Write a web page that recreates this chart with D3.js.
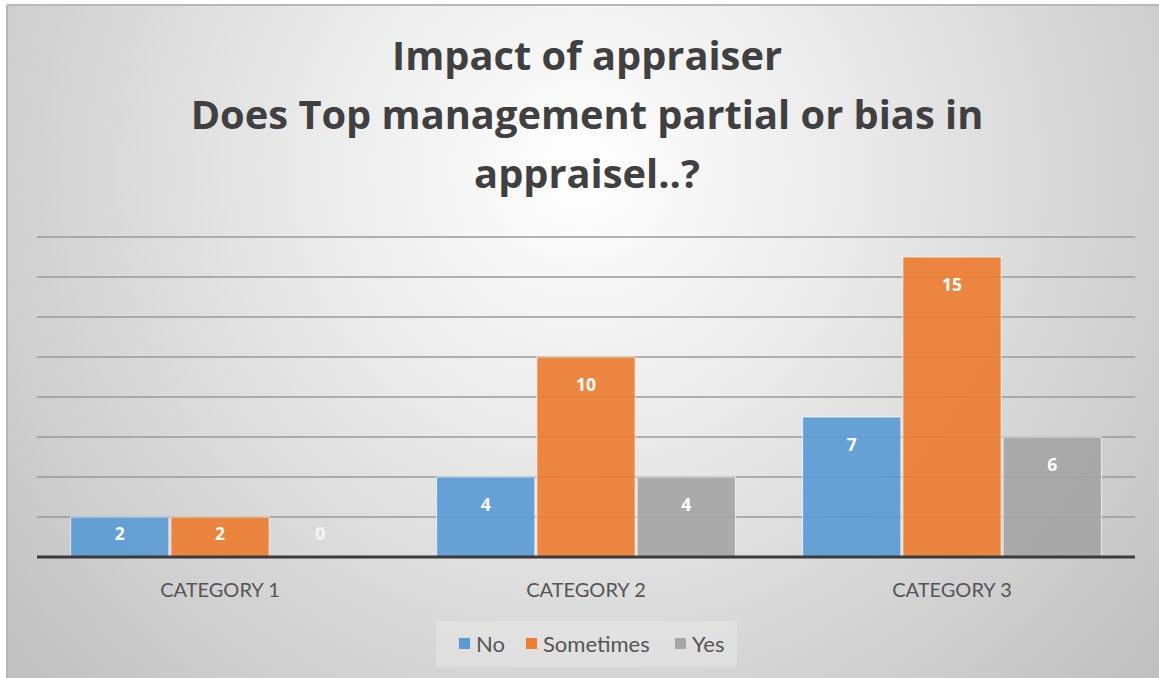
<!DOCTYPE html>
<html>
<head>
<meta charset="utf-8">
<script src="https://cdn.jsdelivr.net/npm/d3@7"></script>
<style>
  html, body { margin: 0; padding: 0; background: #ffffff; }
  svg { display: block; }
</style>
</head>
<body>
<svg id="chart" width="1159" height="678"></svg>
<script>
// ---- data ----
const categories = ["CATEGORY 1", "CATEGORY 2", "CATEGORY 3"];
const seriesNames = ["No", "Sometimes", "Yes"];
const noValues = [2, 4, 7];
const sometimesValues = [2, 10, 15];
const yesValues = [0, 4, 6];
const gridTicks = [0, 2, 4, 6, 8, 10, 12, 14, 16];
const titleLines = ["Impact of appraiser", "Does Top management partial or bias in", "appraisel..?"];

const seriesValues = [noValues, sometimesValues, yesValues];
const colors = ["#5b9bd5", "#ed7d31", "#a5a5a5"];

const W = 1159, H = 678;
const FONT = "Lato, 'Open Sans', sans-serif";
const svg = d3.select("#chart");
const defs = svg.append("defs");

// sizes a text element so that its rendered width equals the given width
function fitWidth(sel, width) {
  const base = 40;
  sel.attr("font-size", base);
  const w = sel.node().getComputedTextLength();
  const size = base * width / w;
  sel.attr("font-size", size);
  return size;
}

// chart area background: soft radial shading
const grad = defs.append("radialGradient")
  .attr("id", "bg").attr("gradientUnits", "userSpaceOnUse")
  .attr("cx", 580).attr("cy", 170).attr("r", 760);
grad.append("stop").attr("offset", "0%").attr("stop-color", "#ffffff");
grad.append("stop").attr("offset", "35%").attr("stop-color", "#ebebeb");
grad.append("stop").attr("offset", "100%").attr("stop-color", "#c0c0c0");

svg.append("rect").attr("x", 7).attr("y", 5).attr("width", W - 7).attr("height", H - 5)
  .attr("fill", "url(#bg)");
// frame edges
svg.append("line").attr("x1", 7).attr("y1", 5).attr("x2", W).attr("y2", 5)
  .attr("stroke", "#b8b8b8").attr("stroke-width", 2);
svg.append("line").attr("x1", 7).attr("y1", 5).attr("x2", 7).attr("y2", H)
  .attr("stroke", "#b8b8b8").attr("stroke-width", 2);

// ---- title ----
const title = svg.append("g")
  .attr("font-family", "'Open Sans', Lato, sans-serif")
  .attr("font-weight", 700)
  .attr("fill", "#404040")
  .attr("text-anchor", "middle");
const titleBaselines = [70, 129, 188];
const titleTexts = titleLines.map((t, i) =>
  title.append("text").attr("x", 587).attr("y", titleBaselines[i]).text(t));
const titleSize = fitWidth(titleTexts[1], 793);
titleTexts.forEach(t => t.attr("font-size", titleSize));

// ---- scales ----
const plot = { left: 37, right: 1135, top: 237, bottom: 557 };
const x0 = d3.scaleBand().domain(categories)
  .range([plot.left, plot.right]).paddingInner(0.178).paddingOuter(0.089);
const x1 = d3.scaleBand().domain(seriesNames).range([0, x0.bandwidth()]).padding(0);
const y = d3.scaleLinear().domain([0, 16]).range([plot.bottom, plot.top]);

// gridlines
svg.append("g").selectAll("line").data(gridTicks.filter(d => d > 0)).join("line")
  .attr("x1", plot.left).attr("x2", plot.right)
  .attr("y1", d => y(d)).attr("y2", d => y(d))
  .attr("stroke", "#9a9a9a").attr("stroke-width", 1.6);

// bars
const rows = categories.map((c, ci) => ({
  cat: c,
  vals: seriesNames.map((s, si) => ({ s, si, v: seriesValues[si][ci] }))
}));
const groups = svg.append("g").selectAll("g").data(rows).join("g")
  .attr("transform", d => `translate(${x0(d.cat)},0)`);
groups.selectAll("rect").data(d => d.vals).join("rect")
  .attr("x", d => x1(d.s) + 1)
  .attr("width", x1.bandwidth() - 2)
  .attr("y", d => y(d.v))
  .attr("height", d => y(0) - y(d.v))
  .attr("fill", d => colors[d.si])
  .attr("fill-opacity", 0.92)
  .attr("stroke", "#ffffff").attr("stroke-opacity", 0.6).attr("stroke-width", 1.2);

// value labels
groups.selectAll("text").data(d => d.vals).join("text")
  .attr("x", d => x1(d.s) + x1.bandwidth() / 2)
  .attr("y", d => Math.min(y(d.v) + 28, y(0) - 23) + 6)
  .attr("text-anchor", "middle")
  .attr("font-family", "'Open Sans', Lato, sans-serif")
  .attr("font-weight", 700).attr("font-size", 17.5)
  .attr("fill", "#ffffff")
  .attr("fill-opacity", d => d.v === 0 ? 0.75 : 1)
  .text(d => d.v);

// baseline axis
svg.append("line").attr("x1", plot.left).attr("x2", plot.right)
  .attr("y1", y(0)).attr("y2", y(0))
  .attr("stroke", "#3a3a3a").attr("stroke-width", 3);

// category axis labels
const xAxis = svg.append("g").attr("transform", `translate(0,${y(0)})`)
  .call(d3.axisBottom(x0).tickSize(0).tickPadding(0));
xAxis.select(".domain").remove();
xAxis.selectAll("text")
  .attr("y", 40)
  .attr("dy", 0)
  .attr("font-family", FONT)
  .attr("font-size", 20)
  .attr("fill", "#555555");

// ---- legend ----
const legend = svg.append("g");
legend.append("rect").attr("x", 436).attr("y", 621).attr("width", 301).attr("height", 46)
  .attr("fill", "#ffffff").attr("fill-opacity", 0.22);
const legendX = [459, 526, 675];
seriesNames.forEach((s, i) => {
  legend.append("rect").attr("x", legendX[i]).attr("y", 638).attr("width", 11).attr("height", 11)
    .attr("fill", colors[i]);
  legend.append("text").attr("x", legendX[i] + 17).attr("y", 652)
    .attr("font-family", FONT)
    .attr("font-size", 22).attr("fill", "#555555").text(s);
});
</script>
</body>
</html>
